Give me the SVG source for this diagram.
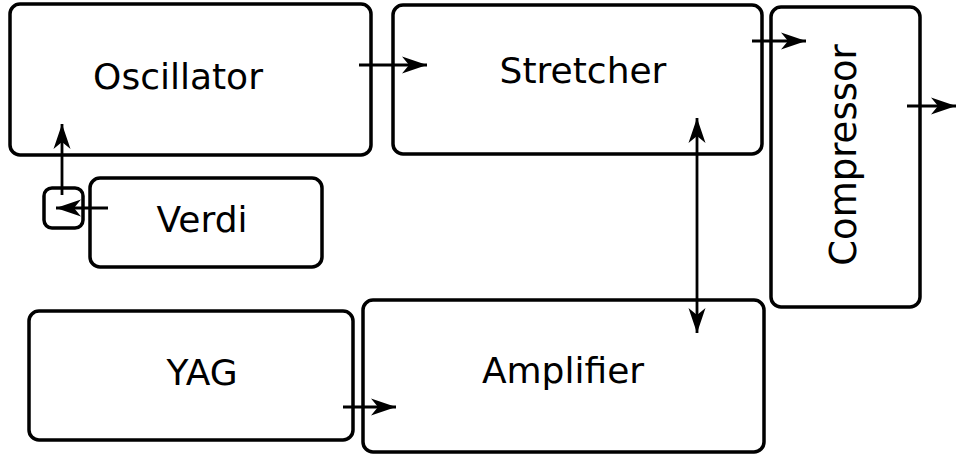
<svg xmlns="http://www.w3.org/2000/svg" width="957" height="454" viewBox="0 0 957 454">
<style>
.box{fill:#fff;stroke:#000;stroke-width:3.5}
.lbl{font-family:"DejaVu Sans",sans-serif;font-size:36px;fill:#000}
.con{stroke:#000;stroke-width:2.8;fill:none}
</style>
<defs>
<marker id="ah" markerUnits="userSpaceOnUse" markerWidth="30" markerHeight="22" viewBox="-26 -11 28 22" refX="0" refY="0" orient="auto-start-reverse">
<path d="M0,0 L-25,-8.5 L-18,0 L-25,8.5 Z" fill="#000"/>
</marker>
</defs>
<rect width="957" height="454" fill="#fff"/>
<g id="oscillator"><rect class="box" x="10" y="4" width="361" height="151" rx="10"/><text class="lbl" x="178" y="89" text-anchor="middle">Oscillator</text></g>
<g id="stretcher"><rect class="box" x="393" y="5" width="369" height="149" rx="10"/><text class="lbl" x="583" y="83" text-anchor="middle">Stretcher</text></g>
<g id="compressor"><rect class="box" x="771" y="7" width="149" height="300" rx="10"/><text class="lbl" style="font-size:37px" transform="translate(856,155) rotate(-90)" x="0" y="0" text-anchor="middle">Compressor</text></g>
<g id="verdi"><rect class="box" x="90" y="178" width="232" height="89" rx="10"/><text class="lbl" x="202" y="232" text-anchor="middle">Verdi</text></g>
<g id="combiner"><rect class="box" x="44" y="188" width="39" height="40" rx="8"/></g>
<g id="yag"><rect class="box" x="29" y="311" width="324" height="129" rx="10"/><text class="lbl" x="202" y="385" text-anchor="middle">YAG</text></g>
<g id="amplifier"><rect class="box" x="363" y="300" width="401" height="152" rx="10"/><text class="lbl" x="563" y="383" text-anchor="middle">Amplifier</text></g>
<g id="connectors">
<line class="con" x1="359" y1="65" x2="427" y2="65" marker-end="url(#ah)"/>
<line class="con" x1="752" y1="41" x2="806" y2="41" marker-end="url(#ah)"/>
<line class="con" x1="907" y1="106" x2="956" y2="106" marker-end="url(#ah)"/>
<line class="con" x1="697" y1="118" x2="697" y2="333" marker-start="url(#ah)" marker-end="url(#ah)"/>
<line class="con" x1="343" y1="407" x2="396" y2="407" marker-end="url(#ah)"/>
<line class="con" x1="108" y1="208" x2="56" y2="208" marker-end="url(#ah)"/>
<line class="con" x1="62" y1="195" x2="62" y2="124" marker-end="url(#ah)"/>
</g>
</svg>
